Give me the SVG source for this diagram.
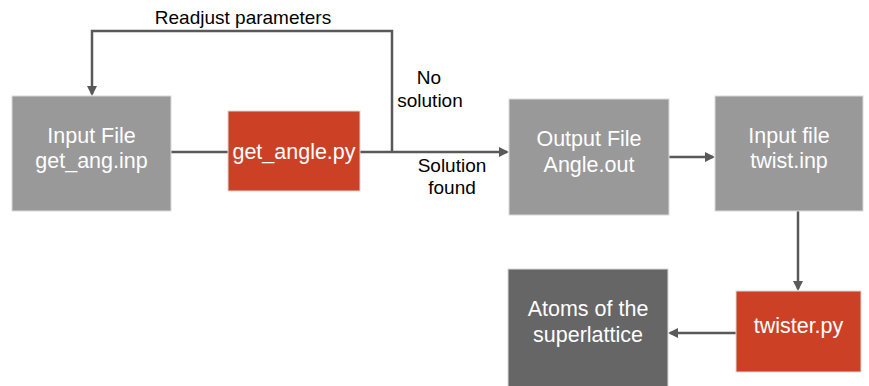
<svg xmlns="http://www.w3.org/2000/svg" width="869" height="386" viewBox="0 0 869 386">
<defs>
<style>
.box{stroke:#d9d9d9;stroke-width:1}
.g{fill:#999999}
.r{fill:#cc4125}
.d{fill:#666666}
.bt{font-family:"Liberation Sans",Arial,sans-serif;font-size:21.5px;fill:#ffffff;text-anchor:middle}
.lt{font-family:"Liberation Sans",Arial,sans-serif;font-size:19px;fill:#000000;text-anchor:middle}
.ln{fill:none;stroke:#595959;stroke-width:2.5}
</style>
<marker id="ah" markerWidth="10" markerHeight="10" refX="8" refY="5" orient="auto" markerUnits="userSpaceOnUse">
<path d="M0,0 L10,5 L0,10 Z" fill="#595959"/>
</marker>
</defs>
<rect width="869" height="386" fill="#ffffff"/>
<g id="connectors">
<polyline class="ln" points="392,152 392,31 92,31 92,94" marker-end="url(#ah)"/>
<line class="ln" x1="171" y1="152" x2="228" y2="152"/>
<line class="ln" x1="360" y1="152" x2="507" y2="152" marker-end="url(#ah)"/>
<line class="ln" x1="669" y1="157" x2="713" y2="157" marker-end="url(#ah)"/>
<line class="ln" x1="798" y1="211" x2="798" y2="289" marker-end="url(#ah)"/>
<line class="ln" x1="736" y1="333" x2="670" y2="333" marker-end="url(#ah)"/>
</g>
<g id="labels">
<text class="lt" x="243" y="24">Readjust parameters</text>
<text class="lt" x="429" y="84">No</text>
<text class="lt" x="430" y="107">solution</text>
<text class="lt" x="452" y="172">Solution</text>
<text class="lt" x="452" y="194">found</text>
</g>
<g id="input-file">
<rect class="box g" x="12" y="96" width="159" height="115"/>
<text class="bt" x="91.5" y="143">Input File</text>
<text class="bt" x="91.5" y="168">get_ang.inp</text>
</g>
<g id="get-angle">
<rect class="box r" x="228" y="111" width="132" height="80"/>
<text class="bt" x="294" y="159">get_angle.py</text>
</g>
<g id="output-file">
<rect class="box g" x="509" y="99" width="160" height="116"/>
<text class="bt" x="589" y="146">Output File</text>
<text class="bt" x="589" y="172">Angle.out</text>
</g>
<g id="twist-inp">
<rect class="box g" x="715" y="96" width="148" height="115"/>
<text class="bt" x="789" y="143">Input file</text>
<text class="bt" x="789" y="168">twist.inp</text>
</g>
<g id="twister">
<rect class="box r" x="736" y="291" width="125" height="81"/>
<text class="bt" x="798.5" y="333">twister.py</text>
</g>
<g id="atoms">
<rect class="box d" x="508" y="269" width="160" height="118"/>
<text class="bt" x="588" y="316">Atoms of the</text>
<text class="bt" x="588" y="342">superlattice</text>
</g>
</svg>
